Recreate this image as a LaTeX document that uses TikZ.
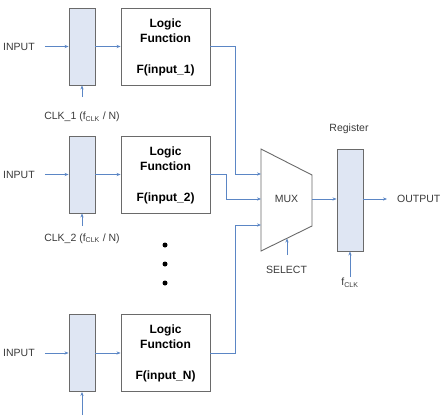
\documentclass[tikz,border=0pt]{standalone}
\usepackage{fontspec}
\setmainfont{Liberation Sans}
\usetikzlibrary{arrows.meta,calc}
\definecolor{wire}{HTML}{5B86C5}
\definecolor{boxfill}{HTML}{DFE6F3}
\definecolor{edge}{HTML}{6A6A6A}
\definecolor{txt}{HTML}{3A3A3A}
\tikzset{
  regbox/.style={draw=edge, fill=boxfill, line width=0.9pt, minimum width=26pt, minimum height=77pt, inner sep=0pt},
  logicbox/.style={draw=edge, fill=white, line width=0.9pt, minimum width=89pt, minimum height=77pt, inner sep=0pt},
  arr/.style={draw=wire, line width=0.7pt, -{Stealth[length=4pt,width=3.2pt]}},
  wireline/.style={draw=wire, line width=0.7pt},
  lbl/.style={text=txt, font=\fontsize{10.5}{12}\selectfont, inner sep=0pt},
  bold/.style={text=black, font=\fontsize{12}{14}\selectfont\bfseries, inner sep=0pt},
}
\newcommand{\fclk}{f\textsubscript{\fontsize{7}{8}\selectfont CLK}}
\begin{document}
\begin{tikzpicture}[x=1pt,y=-1pt]
\useasboundingbox (0,0) rectangle (443,415);
% rows
\foreach \r/\y/\lab in {1/46.5/1, 2/174.5/2, 3/353/N}{
  \node[regbox] (reg\r) at (82,\y) {};
  \node[logicbox] (log\r) at (165.5,\y) {};
  \node[bold] (lt\r) at (165.5,\y-22.5) {Logic};
  \node[bold] (ft\r) at (165.5,\y-8.5) {Function};
  \node[bold] (fn\r) at (165.5,\y+23.5) {F(input\_\lab)};
  \node[lbl, anchor=west] (in\r) at (3,\y) {INPUT};
  \draw[arr, shorten <=10pt] (in\r.east) -- (reg\r.west);
  \draw[arr] (reg\r.east) -- (log\r.west);
}
% clock arrows
\coordinate (c1) at (82,97);
\coordinate (c2) at (82,226);
\coordinate (c3) at (82,415);
\draw[arr] (c1) -- (reg1.south);
\draw[arr] (c2) -- (reg2.south);
\draw[arr] (c3) -- (reg3.south);
\node[lbl] (clk1) at (82,117) {CLK\_1 (\fclk{} / N)};
\node[lbl] (clk2) at (82,238.5) {CLK\_2 (\fclk{} / N)};
% dots
\foreach \i/\y in {1/245,2/264,3/283}{
  \node[circle, fill=black, minimum size=5pt, inner sep=0pt] (dot\i) at (165,\y) {};
}
% MUX
\coordinate (mtl) at (261,149);
\coordinate (mtr) at (312,175);
\coordinate (mbr) at (312,226);
\coordinate (mbl) at (261,251);
\draw[edge, line width=0.9pt, fill=white] (mtl) -- (mtr) -- (mbr) -- (mbl) -- cycle;
\node[lbl] (mux) at (286.5,199) {MUX};
\coordinate (m1) at (261,174);
\coordinate (m2) at (261,199);
\coordinate (m3) at (261,225);
\coordinate (mout) at (312,199);
\coordinate (msel) at (287,238.5);
\coordinate (b1) at (235,174);
\coordinate (b2) at (226,199);
\coordinate (b3) at (235,225);
\draw[arr] (log1.east) -| (b1) -- (m1);
\draw[arr] (log2.east) -| (b2) -- (m2);
\draw[arr] (log3.east) -| (b3) -- (m3);
\coordinate (sel0) at (287,255);
\draw[arr] (sel0) -- (msel);
\node[lbl] (sel) at (286.5,270) {SELECT};
% register
\node[regbox, minimum height=102pt] (reg) at (350,200) {};
\node[lbl] (regl) at (349,129) {Register};
\draw[arr] (mout) -- (reg.west |- mout);
\node[lbl, anchor=west] (out) at (397,199) {OUTPUT};
\draw[arr, shorten >=10pt] (reg.east |- out) -- (out.west);
\coordinate (fc0) at (350,277);
\draw[arr] (fc0) -- (reg.south);
\node[lbl, anchor=north] (fcl) at (350,278) {\fclk};
\end{tikzpicture}
\end{document}
